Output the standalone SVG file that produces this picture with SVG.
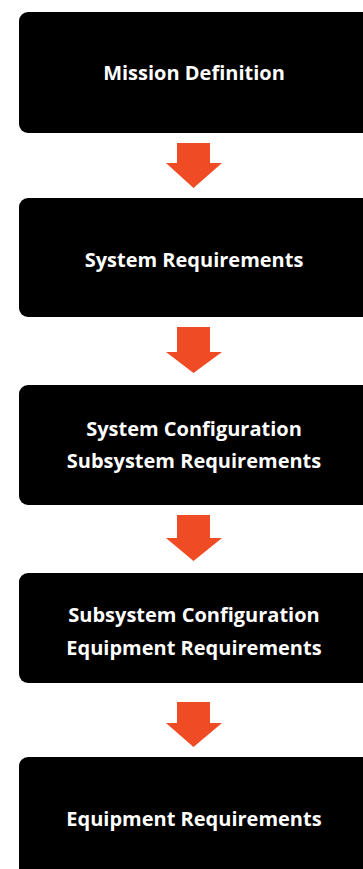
<svg xmlns="http://www.w3.org/2000/svg" width="363" height="869" viewBox="0 0 363 869">
  <style>
    .box { fill: #000000; }
    .label { fill: #ffffff; font-family: "Open Sans", "Liberation Sans", sans-serif; font-weight: 700; font-size: 20px; text-anchor: middle; }
    .arrow { fill: #EF4B24; }
  </style>
  <rect width="363" height="869" fill="#ffffff"/>

  <g id="mission-definition">
    <rect class="box" x="19" y="12" width="356" height="121" rx="9"/>
    <text class="label" x="194" y="80">Mission Definition</text>
  </g>

  <g id="system-requirements">
    <rect class="box" x="19" y="198" width="356" height="119" rx="9"/>
    <text class="label" x="194" y="267">System Requirements</text>
  </g>

  <g id="system-configuration">
    <rect class="box" x="19" y="385" width="356" height="120" rx="9"/>
    <text class="label" x="194" y="436">System Configuration</text>
    <text class="label" x="194" y="468">Subsystem Requirements</text>
  </g>

  <g id="subsystem-configuration">
    <rect class="box" x="19" y="573" width="356" height="110" rx="9"/>
    <text class="label" x="194" y="622">Subsystem Configuration</text>
    <text class="label" x="194" y="655">Equipment Requirements</text>
  </g>

  <g id="equipment-requirements">
    <rect class="box" x="19" y="757" width="356" height="130" rx="9"/>
    <text class="label" x="194" y="826">Equipment Requirements</text>
  </g>

  <g id="connectors">
    <path class="arrow" d="M177 143 H210 V163 H222 L193.5 188 L166 163 H177 Z"/>
    <path class="arrow" d="M177 327 H210 V352 H222 L193.5 373 L166 352 H177 Z"/>
    <path class="arrow" d="M177 515 H210 V538 H222 L193.5 561 L166 538 H177 Z"/>
    <path class="arrow" d="M177 702 H210 V723 H222 L193.5 747 L166 723 H177 Z"/>
  </g>
</svg>
